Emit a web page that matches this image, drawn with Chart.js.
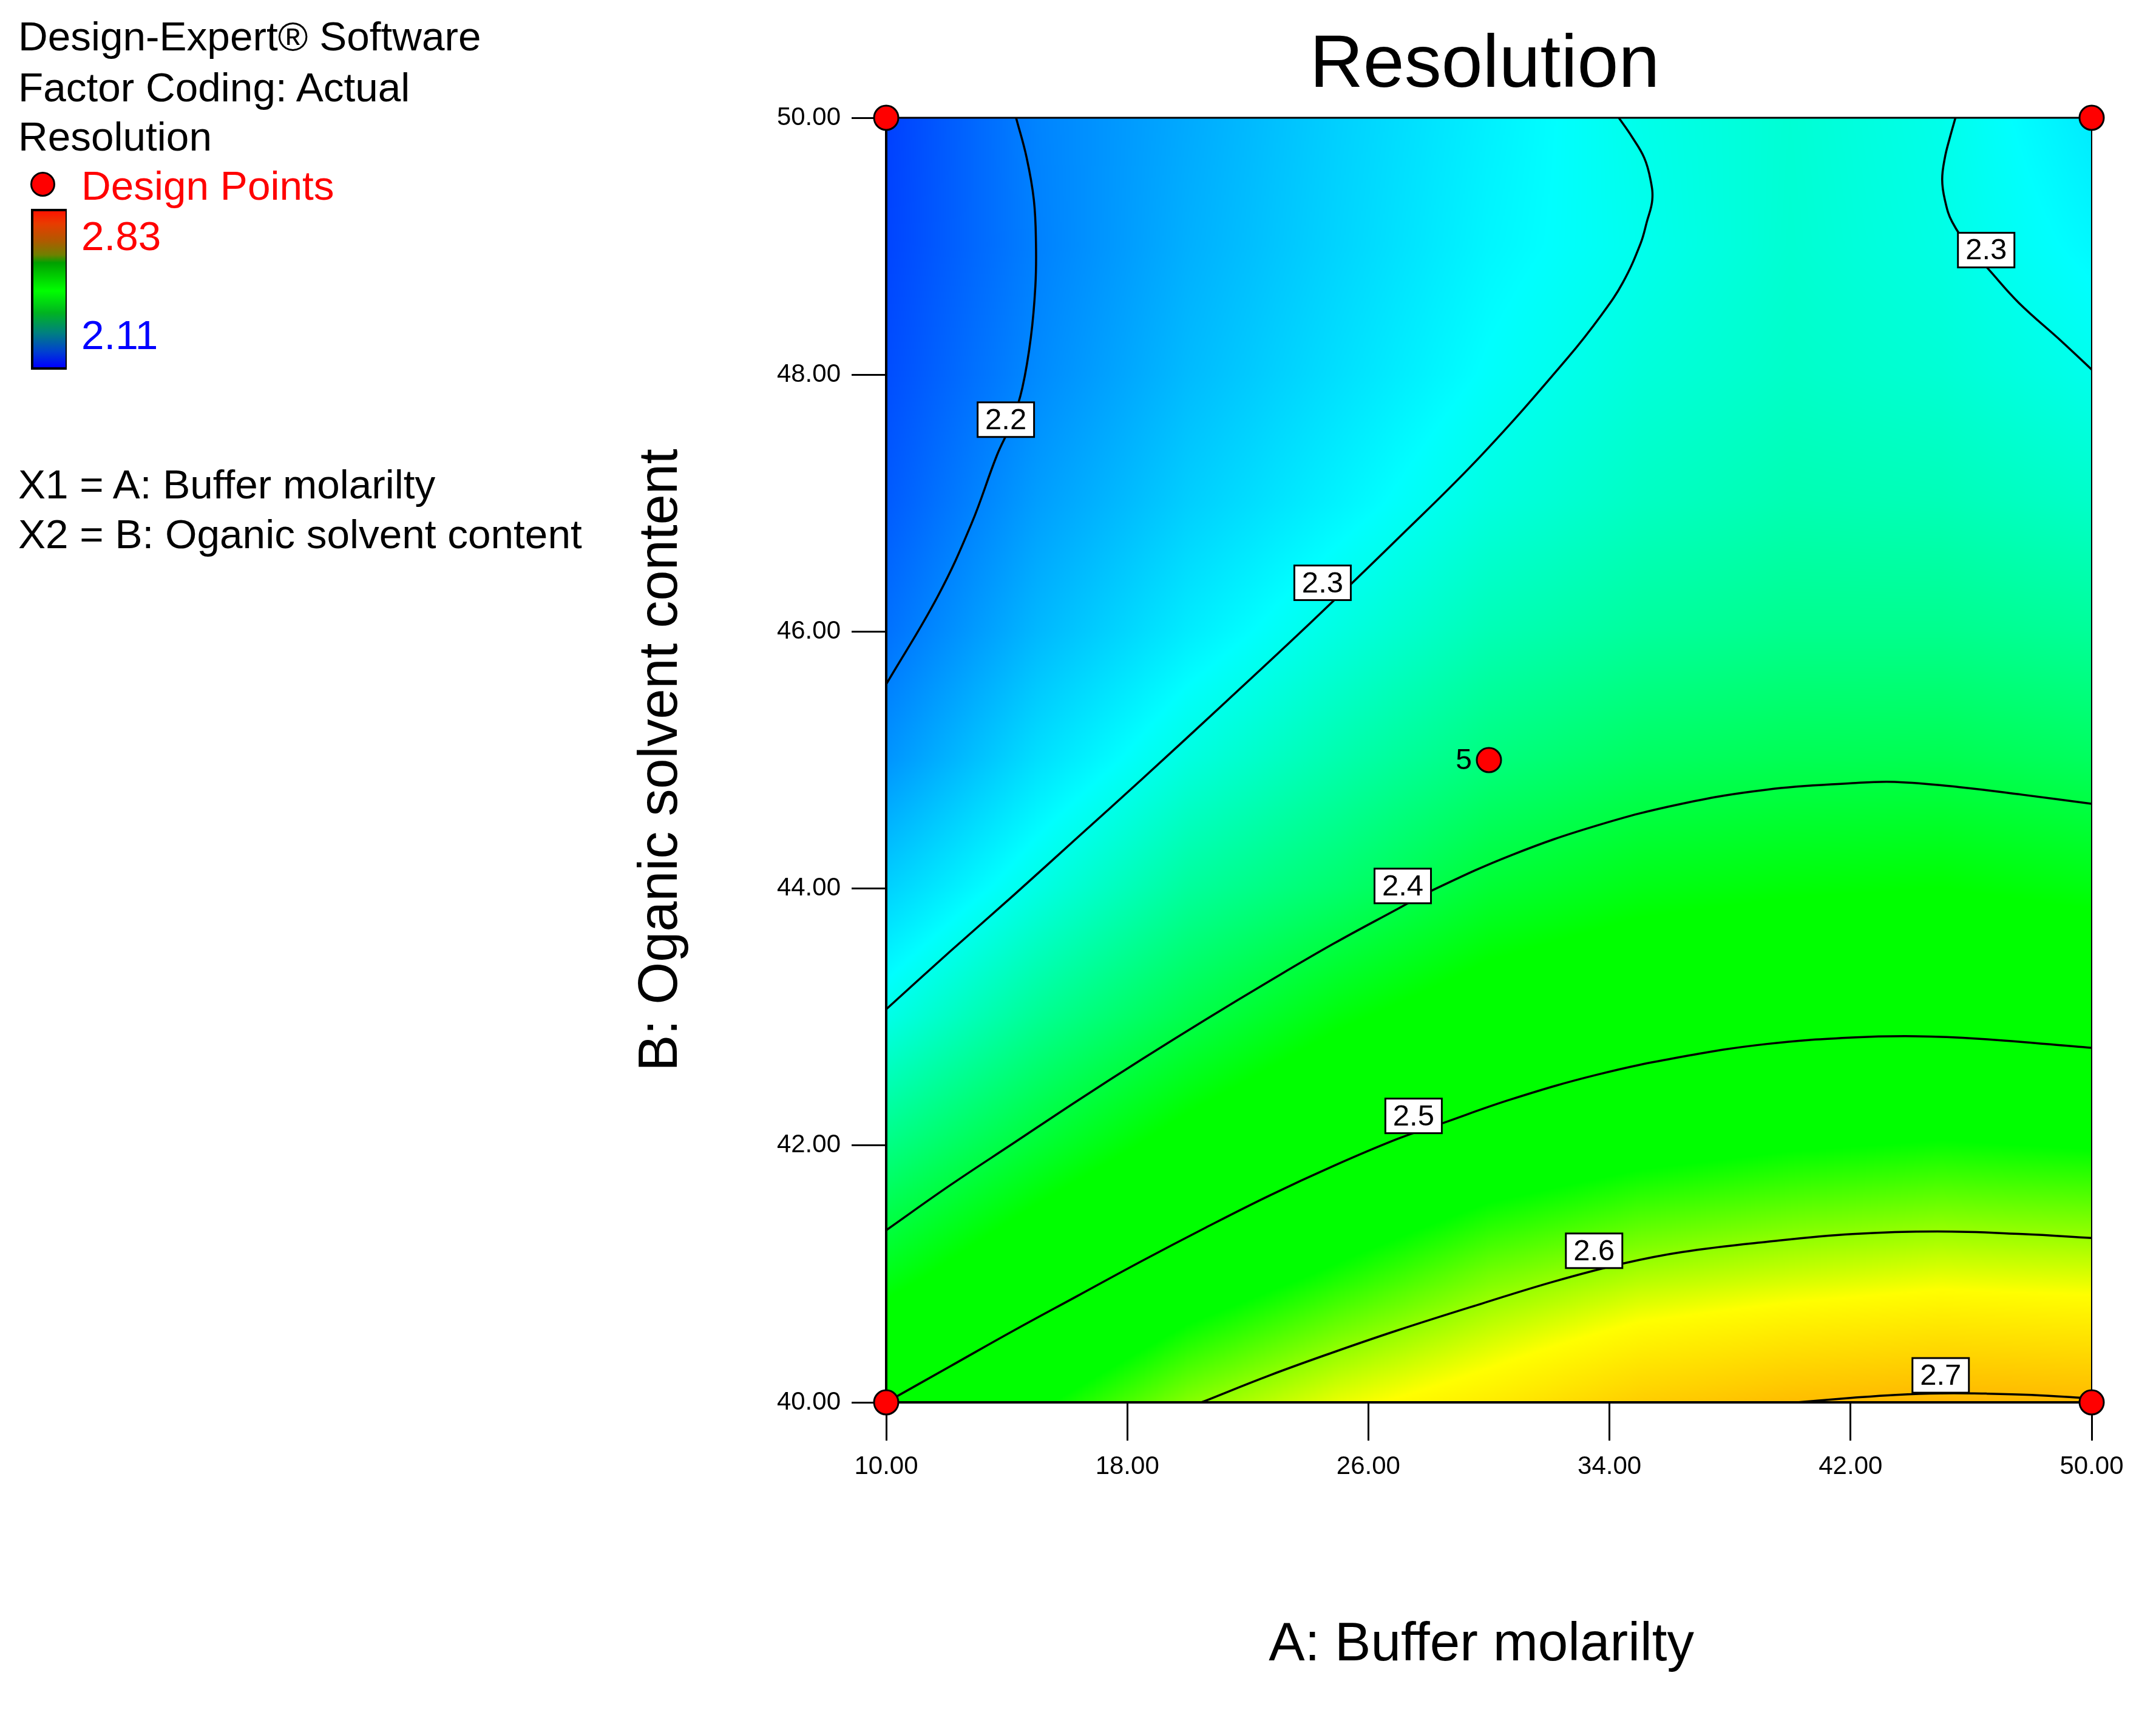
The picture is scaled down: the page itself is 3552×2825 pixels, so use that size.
<!DOCTYPE html>
<html>
<head>
<meta charset="utf-8">
<title>Resolution</title>
<script src="https://cdn.jsdelivr.net/npm/chart.js@4.4.1/dist/chart.umd.min.js"></script>
<style>
  html, body { margin: 0; padding: 0; background: #fff; }
  body { width: 3552px; height: 2825px; position: relative; overflow: hidden;
         font-family: 'Liberation Sans', Arial, sans-serif; }
  #wrap { position: absolute; left: 0; top: 0; width: 3552px; height: 2825px; }
  .note { position: absolute; font-size: 67.5px; line-height: 66px; white-space: nowrap; color: #000; }
  #dot { position: absolute; left: 50px; top: 283px; width: 41px; height: 41px; box-sizing: border-box;
         border: 3px solid #000; border-radius: 50%; background: #ff0000; }
  #bar { position: absolute; left: 51px; top: 344px; width: 59px; height: 265px; box-sizing: border-box;
         border: 4px solid #000; border-right-width: 2px;
         background: linear-gradient(to bottom, #ff1400 0%, #e83c00 8%, #b05a00 19%, #6f8000 28%,
                     #00a000 33%, #00ff00 51%, #00b420 65%, #008080 78%, #0040d0 90%, #0000ff 100%); }
</style>
</head>
<body>
<div id="wrap"><canvas id="chart"></canvas></div>

<div class="note" style="left:30px; top:27px;">Design-Expert® Software</div>
<div class="note" style="left:30px; top:111px;">Factor Coding: Actual</div>
<div class="note" style="left:30px; top:192px;">Resolution</div>
<div id="dot"></div>
<div class="note" style="left:134px; top:273px; color:#ff0000;">Design Points</div>
<div id="bar"></div>
<div class="note" style="left:134px; top:356px; color:#ff0000;">2.83</div>
<div class="note" style="left:134px; top:519px; color:#0000ff;">2.11</div>
<div class="note" style="left:30px; top:765px;">X1 = A: Buffer molarilty</div>
<div class="note" style="left:30px; top:847px;">X2 = B: Oganic solvent content</div>

<script>
// response surface: one row per B value, one column per A value
const gridA = [10, 15, 20, 25, 30, 35, 40, 45, 50];
const gridB = [40, 41, 42, 43, 44, 45, 46, 47, 48, 49, 50];
const rowB40 = [2.500, 2.545, 2.594, 2.628, 2.652, 2.682, 2.698, 2.706, 2.702];
const rowB41 = [2.425, 2.476, 2.522, 2.556, 2.588, 2.607, 2.617, 2.625, 2.622];
const rowB42 = [2.362, 2.409, 2.455, 2.492, 2.520, 2.537, 2.547, 2.553, 2.548];
const rowB43 = [2.303, 2.353, 2.395, 2.434, 2.463, 2.480, 2.487, 2.492, 2.485];
const rowB44 = [2.258, 2.305, 2.348, 2.376, 2.410, 2.428, 2.436, 2.440, 2.431];
const rowB45 = [2.215, 2.268, 2.308, 2.338, 2.366, 2.383, 2.391, 2.393, 2.385];
const rowB46 = [2.190, 2.240, 2.277, 2.307, 2.333, 2.348, 2.357, 2.357, 2.350];
const rowB47 = [2.174, 2.222, 2.256, 2.282, 2.308, 2.325, 2.335, 2.332, 2.322];
const rowB48 = [2.164, 2.208, 2.242, 2.268, 2.292, 2.311, 2.322, 2.315, 2.301];
const rowB49 = [2.158, 2.201, 2.234, 2.260, 2.284, 2.300, 2.316, 2.305, 2.286];
const rowB50 = [2.155, 2.203, 2.230, 2.257, 2.280, 2.302, 2.315, 2.302, 2.276];
const resolution = [rowB40, rowB41, rowB42, rowB43, rowB44, rowB45, rowB46, rowB47, rowB48, rowB49, rowB50];

// colour ramp as it appears in the plot
const rampValues = [2.11, 2.29, 2.44, 2.55, 2.635, 2.88];
const rampColors = [[0, 0, 255], [0, 255, 255], [0, 255, 0], [0, 255, 0], [255, 255, 0], [255, 0, 0]];

// contour lines (A, B)
const c22A = [10.00, 11.70, 12.83, 13.67, 14.17, 14.52, 14.80, 14.95, 14.97, 14.90, 14.66, 14.31];
const c22B = [45.59, 46.27, 46.84, 47.37, 47.63, 47.90, 48.29, 48.69, 49.02, 49.36, 49.69, 50.00];
const c23aA = [10.00, 12.12, 14.24, 16.36, 18.48, 21.30, 24.13, 26.96, 29.78, 32.61, 33.75, 34.45, 35.03, 35.24, 35.42, 35.36, 35.15, 34.75, 34.31];
const c23aB = [43.06, 43.51, 43.95, 44.40, 44.85, 45.46, 46.08, 46.72, 47.38, 48.13, 48.47, 48.72, 49.02, 49.19, 49.36, 49.52, 49.69, 49.85, 50.00];
const c23bA = [45.48, 45.30, 45.13, 45.04, 45.13, 45.37, 46.01, 46.58, 47.58, 49.00, 50.00];
const c23bB = [50.00, 49.85, 49.69, 49.52, 49.36, 49.19, 48.97, 48.82, 48.56, 48.26, 48.04];
const c24A = [10.00, 12.12, 14.24, 16.36, 18.48, 20.60, 22.72, 24.84, 26.96, 28.07, 30.75, 33.58, 36.40, 39.23, 42.06, 43.47, 45.59, 47.71, 50.00];
const c24B = [41.34, 41.69, 42.02, 42.35, 42.67, 42.98, 43.28, 43.57, 43.84, 43.98, 44.26, 44.49, 44.66, 44.77, 44.82, 44.83, 44.79, 44.73, 44.66];
const c25A = [10.00, 12.12, 14.24, 16.36, 18.48, 20.60, 22.72, 24.84, 26.96, 28.42, 30.75, 33.58, 36.40, 39.23, 42.06, 44.17, 46.29, 50.00];
const c25B = [40.00, 40.28, 40.56, 40.83, 41.10, 41.36, 41.61, 41.84, 42.05, 42.17, 42.36, 42.55, 42.69, 42.79, 42.84, 42.85, 42.83, 42.76];
const c26A = [20.46, 22.72, 24.84, 26.96, 29.78, 32.15, 34.43, 36.40, 39.23, 42.06, 44.88, 47.71, 50.00];
const c26B = [40.00, 40.21, 40.39, 40.56, 40.77, 40.94, 41.08, 41.17, 41.25, 41.31, 41.33, 41.31, 41.28];
const c27A = [40.22, 42.05, 43.50, 45.00, 46.50, 48.00, 50.00];
const c27B = [40.00, 40.035, 40.058, 40.07, 40.068, 40.058, 40.03];

// contour labels
const labelText = ['2.2', '2.3', '2.3', '2.4', '2.5', '2.6', '2.7'];
const labelA = [13.97, 24.48, 46.50, 27.14, 27.50, 33.49, 44.99];
const labelB = [47.65, 46.38, 48.97, 44.02, 42.23, 41.18, 40.21];

// design points
const pointsA = [10, 50, 10, 50, 30];
const pointsB = [40, 40, 50, 50, 45];
const centerRuns = '5';

const chartTitle = 'Resolution';
const FONT = "'Liberation Sans', Arial, sans-serif";

Chart.defaults.font.family = FONT;
Chart.defaults.color = '#000';

function toXY(as, bs) {
    return as.map((a, i) => ({ x: a, y: bs[i] }));
}

function rampColor(v) {
    const n = rampValues.length;
    if (v <= rampValues[0]) return rampColors[0];
    if (v >= rampValues[n - 1]) return rampColors[n - 1];
    let k = 0;
    while (v > rampValues[k + 1]) k++;
    const f = (v - rampValues[k]) / (rampValues[k + 1] - rampValues[k]);
    return rampColors[k].map((c, i) => Math.round(c + (rampColors[k + 1][i] - c) * f));
}

// value of the read grid at (a, b), blended between the four nearest cells
function surfaceAt(a, b) {
    const stepA = gridA[1] - gridA[0];
    const stepB = gridB[1] - gridB[0];
    let fi = (a - gridA[0]) / stepA;
    let fj = (b - gridB[0]) / stepB;
    fi = Math.max(0, Math.min(gridA.length - 1.0001, fi));
    fj = Math.max(0, Math.min(gridB.length - 1.0001, fj));
    const i = Math.floor(fi), j = Math.floor(fj);
    const u = fi - i, w = fj - j;
    const r0 = resolution[j], r1 = resolution[j + 1];
    const lo = r0[i] + (r0[i + 1] - r0[i]) * u;
    const hi = r1[i] + (r1[i + 1] - r1[i]) * u;
    return lo + (hi - lo) * w;
}

const fieldPlugin = {
    id: 'field',
    beforeDatasetsDraw(chart) {
        const { ctx, chartArea, scales: { x, y } } = chart;
        const { left, right, top, bottom } = chartArea;
        const cell = 2;
        const w = Math.ceil((right - left) / cell);
        const h = Math.ceil((bottom - top) / cell);
        const off = document.createElement('canvas');
        off.width = w;
        off.height = h;
        const octx = off.getContext('2d');
        const img = octx.createImageData(w, h);
        for (let py = 0; py < h; py++) {
            const b = y.getValueForPixel(top + (py + 0.5) * cell);
            for (let px = 0; px < w; px++) {
                const a = x.getValueForPixel(left + (px + 0.5) * cell);
                const c = rampColor(surfaceAt(a, b));
                const k = (py * w + px) * 4;
                img.data[k] = c[0];
                img.data[k + 1] = c[1];
                img.data[k + 2] = c[2];
                img.data[k + 3] = 255;
            }
        }
        octx.putImageData(img, 0, 0);

        ctx.save();
        ctx.beginPath();
        ctx.rect(left, top, right - left, bottom - top);
        ctx.clip();
        ctx.imageSmoothingEnabled = true;
        ctx.drawImage(off, left, top, w * cell, h * cell);
        ctx.restore();

        // frame
        ctx.save();
        ctx.strokeStyle = '#000';
        const side = (lw, ax, ay, bx, by) => {
            ctx.lineWidth = lw;
            ctx.beginPath();
            ctx.moveTo(ax, ay);
            ctx.lineTo(bx, by);
            ctx.stroke();
        };
        side(3, left, top, right, top);
        side(2, right, top, right, bottom);
        side(4, left - 2, bottom, right, bottom);
        side(4, left, top, left, bottom + 2);
        ctx.restore();
    },
    afterDatasetsDraw(chart) {
        const { ctx, scales: { x, y } } = chart;
        ctx.save();
        ctx.font = '49px ' + FONT;
        ctx.textAlign = 'center';
        ctx.textBaseline = 'middle';
        labelText.forEach((t, i) => {
            const px = x.getPixelForValue(labelA[i]);
            const py = y.getPixelForValue(labelB[i]);
            const w = 93, h = 57;
            ctx.fillStyle = '#fff';
            ctx.fillRect(px - w / 2, py - h / 2, w, h);
            ctx.lineWidth = 3;
            ctx.strokeStyle = '#000';
            ctx.strokeRect(px - w / 2, py - h / 2, w, h);
            ctx.fillStyle = '#000';
            ctx.fillText(t, px, py + 2);
        });

        // replicate count beside the centre point
        ctx.font = '48px ' + FONT;
        ctx.textAlign = 'right';
        ctx.fillText(centerRuns, x.getPixelForValue(pointsA[4]) - 28, y.getPixelForValue(pointsB[4]) + 2);
        ctx.restore();
    },
    afterDraw(chart) {
        const { ctx, chartArea } = chart;
        ctx.save();
        ctx.font = '122px ' + FONT;
        ctx.fillStyle = '#000';
        ctx.textAlign = 'center';
        ctx.textBaseline = 'alphabetic';
        ctx.fillText(chartTitle, (chartArea.left + chartArea.right) / 2 - 7, chartArea.top - 51);
        ctx.restore();
    }
};

const contourStyle = {
    type: 'line',
    borderColor: '#000',
    borderWidth: 3.5,
    pointRadius: 0,
    pointHoverRadius: 0,
    tension: 0.4,
    fill: false,
    order: 1
};

const datasets = [
    {
        type: 'scatter',
        data: toXY(pointsA, pointsB),
        pointRadius: 20,
        pointHoverRadius: 20,
        pointBackgroundColor: '#ff0000',
        pointBorderColor: '#000',
        pointBorderWidth: 3,
        clip: false,
        order: 0
    },
    { ...contourStyle, data: toXY(c22A, c22B) },
    { ...contourStyle, data: toXY(c23aA, c23aB) },
    { ...contourStyle, data: toXY(c23bA, c23bB) },
    { ...contourStyle, data: toXY(c24A, c24B) },
    { ...contourStyle, data: toXY(c25A, c25B) },
    { ...contourStyle, data: toXY(c26A, c26B) },
    { ...contourStyle, data: toXY(c27A, c27B) }
];

new Chart(document.getElementById('chart'), {
    type: 'scatter',
    data: { datasets: datasets },
    options: {
        responsive: true,
        maintainAspectRatio: false,
        animation: false,
        devicePixelRatio: 1,
        events: [],
        layout: { padding: { left: 0, right: 106, top: 194, bottom: 0 } },
        plugins: {
            legend: { display: false },
            tooltip: { enabled: false },
            title: { display: false }
        },
        scales: {
            x: {
                type: 'linear',
                position: 'bottom',
                min: 10,
                max: 50,
                ticks: {
                    stepSize: 8,
                    autoSkip: false,
                    maxRotation: 0,
                    padding: 18,
                    color: '#000',
                    font: { size: 42 },
                    callback: v => Number(v).toFixed(2)
                },
                grid: { drawOnChartArea: false, tickLength: 63, lineWidth: 3, tickWidth: 3, tickColor: '#000' },
                border: { display: false },
                title: {
                    display: true,
                    text: 'A: Buffer molarilty ',
                    color: '#000',
                    font: { size: 89 },
                    padding: { top: 0, bottom: 61 }
                },
                afterFit: s => { s.height = 515; }
            },
            y: {
                type: 'linear',
                position: 'left',
                min: 40,
                max: 50,
                ticks: {
                    stepSize: 2,
                    padding: 18,
                    color: '#000',
                    font: { size: 42 },
                    callback: v => Number(v).toFixed(2)
                },
                grid: { drawOnChartArea: false, tickLength: 57, lineWidth: 3, tickWidth: 3, tickColor: '#000' },
                border: { display: false },
                title: {
                    display: true,
                    text: 'B: Oganic solvent content',
                    color: '#000',
                    font: { size: 90 },
                    padding: { top: 1036, bottom: 0 }
                },
                afterFit: s => { s.width = 1460; }
            }
        }
    },
    plugins: [fieldPlugin]
});
</script>
</body>
</html>
